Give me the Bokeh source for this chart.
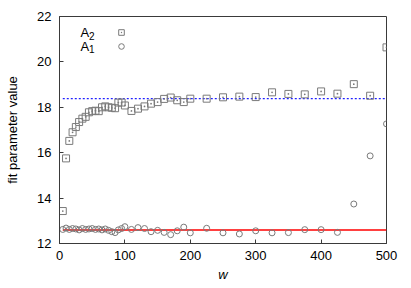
from bokeh.plotting import figure
from bokeh.models import Range1d, Label, Legend, LegendItem
from bokeh.embed import file_html
from bokeh.resources import INLINE

# window sizes
w = [5, 10, 15, 20, 25, 30, 35, 40, 45, 50, 55, 60, 65, 70, 75, 80, 85, 90, 95, 100,
     110, 120, 130, 140, 150, 160, 170, 180, 190, 200,
     225, 250, 275, 300, 325, 350, 375, 400, 425, 450, 475, 500]

A2 = [13.43, 15.75, 16.52, 16.90, 17.13, 17.35, 17.50, 17.58, 17.78, 17.83,
      17.85, 17.83, 18.00, 18.04, 18.00, 17.98, 17.96, 18.21, 18.21, 18.08,
      17.84, 17.94, 18.04, 18.16, 18.23, 18.37, 18.43, 18.31, 18.23, 18.38,
      18.38, 18.44, 18.47, 18.45, 18.66, 18.59, 18.57, 18.70, 18.60, 19.02,
      18.51, 20.64]

A1 = [12.62, 12.68, 12.62, 12.66, 12.64, 12.60, 12.66, 12.62, 12.64, 12.66,
      12.62, 12.64, 12.60, 12.64, 12.58, 12.52, 12.48, 12.60, 12.66, 12.74,
      12.62, 12.70, 12.66, 12.52, 12.58, 12.49, 12.39, 12.56, 12.72, 12.47,
      12.67, 12.47, 12.42, 12.56, 12.47, 12.48, 12.61, 12.61, 12.49, 13.74,
      15.86, 17.27]

A2_fit = 18.38
A1_fit = 12.59

x_ticks = [0, 100, 200, 300, 400, 500]
y_ticks = [12, 14, 16, 18, 20, 22]

FONT = "Liberation Sans"
MARK = "#7a7a7a"
FRAME = "#3a3a3a"

p = figure(width=403, height=287, output_backend="svg", toolbar_location=None,
           x_range=Range1d(0, 500), y_range=Range1d(12, 22),
           min_border_left=59, min_border_right=17, min_border_top=16,
           min_border_bottom=44)
p.background_fill_color = "white"
p.border_fill_color = "white"
p.outline_line_color = FRAME
p.outline_line_width = 1
p.xgrid.visible = False
p.ygrid.visible = False

for ax in (p.xaxis[0], p.yaxis[0]):
    ax.major_tick_in = 4
    ax.major_tick_out = 0
    ax.minor_tick_line_color = None
    ax.axis_line_color = FRAME
    ax.major_tick_line_color = FRAME
    ax.major_label_text_font = FONT
    ax.major_label_text_font_size = "13px"
    ax.major_label_text_color = "#000000"
    ax.axis_label_text_font = FONT
    ax.axis_label_text_font_size = "13px"
    ax.axis_label_text_color = "#000000"

p.xaxis.ticker = x_ticks
p.yaxis.ticker = y_ticks
p.xaxis.major_label_standoff = 7
p.yaxis.major_label_standoff = 8
p.xaxis.axis_label = "w"
p.xaxis.axis_label_text_font_style = "italic"
p.xaxis.axis_label_standoff = 4
p.yaxis.axis_label = "fit parameter value"
p.yaxis.axis_label_text_font_style = "normal"
p.yaxis.axis_label_standoff = 14

# fit lines
fit_x = [w[0], w[-1]]
p.line(fit_x, [A1_fit, A1_fit], line_color="#ff0000", line_width=1.5)
p.line(fit_x, [A2_fit, A2_fit], line_color="#2020ff", line_width=1.3, line_dash="2 2")

r2 = p.scatter(w, A2, marker="square_dot", size=7, fill_color=None,
               line_color=MARK, line_width=1)
r1 = p.scatter(w, A1, marker="circle", size=6, fill_color=None,
               line_color=MARK, line_width=1)

legend = Legend(items=[LegendItem(label=" ", renderers=[r2]),
                       LegendItem(label=" ", renderers=[r1])],
                location=(55, 190), padding=0, margin=0, spacing=0,
                glyph_width=14, glyph_height=14, label_standoff=0,
                label_width=0, label_height=14, label_text_font_size="1px",
                background_fill_alpha=0, border_line_alpha=0)
p.add_layout(legend)

# legend texts (gnuplot style: text left of sample)
for main, sub, yv, ys in (("A", "2", 21.30, 21.16), ("A", "1", 20.70, 20.55)):
    p.add_layout(Label(x=32.0, y=yv, text=main, text_font=FONT,
                       text_font_size="13px", text_baseline="middle",
                       text_align="left", text_color="#000000"))
    p.add_layout(Label(x=45.0, y=ys, text=sub, text_font=FONT,
                       text_font_size="10px", text_baseline="middle",
                       text_align="left", text_color="#000000"))

open("out.html", "w").write(file_html(p, INLINE))
